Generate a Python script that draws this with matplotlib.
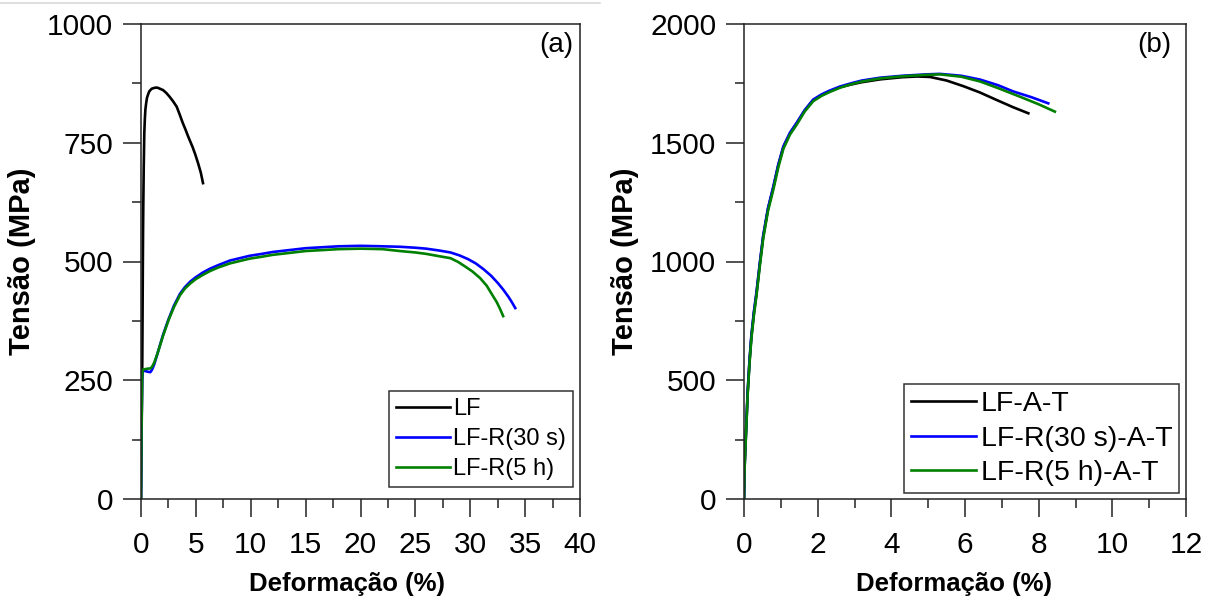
import matplotlib
matplotlib.use("Agg")
import matplotlib.pyplot as plt
from matplotlib.lines import Line2D
from matplotlib.ticker import MultipleLocator

plt.rcParams["font.family"] = ["Liberation Sans", "DejaVu Sans"]

# ---- (a) as-received / recrystallised samples ----
lf_strain = [0, 0.08, 0.12, 0.15, 0.17, 0.19, 0.21, 0.25, 0.30, 0.35, 0.40, 0.48,
             0.55, 0.65, 0.75, 0.9, 1.0, 1.15, 1.3, 1.5, 1.7, 2.0, 2.3, 2.6,
             2.9, 3.25, 3.5, 3.8, 4.05, 4.3, 4.5, 4.7, 4.95, 5.2, 5.45, 5.65]
lf_stress = [0, 200, 300, 420, 500, 570, 620, 700, 770, 800, 820, 835,
             845, 852, 858, 862, 864, 865, 866, 866, 864, 861, 855, 847,
             838, 826, 811, 792, 778, 763, 752, 741, 725, 707, 687, 665]

r30_strain = [0, 0.05, 0.10, 0.15, 0.3, 0.6, 0.85, 1.0, 1.2, 1.5, 2.0, 2.5,
              3.0, 3.55, 4.0, 4.5, 5.0, 5.65, 6.3, 7.0, 8.1, 9.0, 9.9, 11, 12,
              13.5, 15, 16.5, 18, 20, 22, 23.6, 25, 26, 27.2, 28.2, 29.0, 29.8,
              30.5, 31.2, 31.9, 32.5, 33.0, 33.5, 33.8, 34.1]
r30_stress = [0, 150, 250, 268, 270, 268, 267, 272, 283, 306, 345, 378,
              407, 432, 446, 458, 467, 477, 485, 492, 502, 507, 512, 516, 520,
              524, 528, 530, 532, 533, 532, 531, 529, 527, 523, 519, 513, 505,
              496, 484, 470, 455, 441, 425, 414, 402]

r5h_strain = [0, 0.05, 0.10, 0.15, 0.5, 0.85, 1.0, 1.2, 1.5, 2.0, 2.5, 3.0,
              3.55, 4.0, 4.5, 5.0, 5.65, 6.3, 7.0, 8.1, 9.0, 9.9, 11, 12,
              13.5, 15, 16.5, 18, 20, 22, 23.6, 25, 26, 27.2, 28.2, 28.9, 29.5,
              30.2, 30.9, 31.5, 32.0, 32.4, 32.7, 33.0]
r5h_stress = [0, 150, 255, 272, 274, 275, 278, 287, 306, 343, 376, 404,
              429, 443, 454, 463, 472, 480, 487, 496, 501, 506, 510, 514,
              518, 522, 524, 526, 527, 526, 522, 519, 516, 511, 507, 499, 490,
              479, 465, 449, 430, 415, 401, 385]

# ---- (b) after austenitising and tempering ----
lfat_strain = [0, 0.02, 0.05, 0.10, 0.15, 0.20, 0.27, 0.34, 0.43, 0.52, 0.65,
               0.80, 0.93, 1.07, 1.25, 1.43, 1.65, 1.88, 2.1, 2.3, 2.61, 2.9,
               3.2, 3.7, 4.3, 4.7, 5.05, 5.5, 5.96, 6.4, 6.86, 7.3, 7.72]
lfat_stress = [0, 150, 262, 450, 580, 683, 785, 867, 990, 1104, 1220,
               1315, 1405, 1483, 1540, 1582, 1636, 1680, 1700, 1715, 1734, 1745,
               1755, 1767, 1776, 1779, 1777, 1762, 1738, 1712, 1680, 1650, 1624]

r30at_strain = [0, 0.02, 0.05, 0.10, 0.15, 0.20, 0.27, 0.34, 0.43, 0.52, 0.65,
                0.80, 0.93, 1.07, 1.25, 1.43, 1.65, 1.88, 2.1, 2.3, 2.61, 2.9,
                3.2, 3.7, 4.3, 4.96, 5.32, 5.9, 6.41, 6.9, 7.31, 7.8, 8.26]
r30at_stress = [0, 155, 268, 455, 585, 688, 790, 872, 995, 1108, 1224,
                1318, 1408, 1485, 1543, 1584, 1638, 1682, 1703, 1718, 1737, 1750,
                1762, 1774, 1782, 1788, 1790, 1782, 1766, 1742, 1716, 1692, 1666]

r5hat_strain = [0, 0.02, 0.05, 0.10, 0.15, 0.20, 0.27, 0.34, 0.43, 0.52, 0.65,
                0.80, 0.93, 1.07, 1.25, 1.43, 1.65, 1.88, 2.1, 2.3, 2.61, 2.9,
                3.2, 3.7, 4.3, 4.96, 5.32, 5.9, 6.41, 6.9, 7.49, 8.0, 8.44]
r5hat_stress = [0, 145, 255, 440, 572, 675, 775, 858, 982, 1095, 1212,
                1305, 1396, 1475, 1535, 1576, 1632, 1675, 1697, 1712, 1732, 1746,
                1758, 1771, 1780, 1786, 1788, 1778, 1758, 1730, 1694, 1662, 1631]

labels_a = ["LF", "LF-R(30 s)", "LF-R(5 h)"]
labels_b = ["LF-A-T", "LF-R(30 s)-A-T", "LF-R(5 h)-A-T"]
colors = ["black", "#0000ff", "#008000"]

W, H = 1214, 605
fig = plt.figure(figsize=(W / 100, H / 100), dpi=100)

ax_a = fig.add_axes([141 / W, 1 - 499 / H, 439 / W, 475 / H])
ax_b = fig.add_axes([744 / W, 1 - 499 / H, 442 / W, 475 / H])

# thin rule along the top of the left half
fig.add_artist(Line2D([0, 600 / W], [1 - 2.5 / H, 1 - 2.5 / H],
                      transform=fig.transFigure, color="#d9d9d9", lw=1.2))

lw = 1.9
for x, y, lab, c in zip([lf_strain, r30_strain, r5h_strain],
                        [lf_stress, r30_stress, r5h_stress], labels_a, colors):
    ax_a.plot(x, y, color=c, lw=lw, label=lab, solid_joinstyle="round")
for x, y, lab, c in zip([lfat_strain, r30at_strain, r5hat_strain],
                        [lfat_stress, r30at_stress, r5hat_stress], labels_b, colors):
    ax_b.plot(x, y, color=c, lw=lw, label=lab, solid_joinstyle="round")

ax_a.set_xlim(0, 40)
ax_a.set_ylim(0, 1000)
ax_a.xaxis.set_major_locator(MultipleLocator(5))
ax_a.xaxis.set_minor_locator(MultipleLocator(2.5))
ax_a.yaxis.set_major_locator(MultipleLocator(250))
ax_a.yaxis.set_minor_locator(MultipleLocator(125))

ax_b.set_xlim(0, 12)
ax_b.set_ylim(0, 2000)
ax_b.xaxis.set_major_locator(MultipleLocator(2))
ax_b.xaxis.set_minor_locator(MultipleLocator(1))
ax_b.yaxis.set_major_locator(MultipleLocator(500))
ax_b.yaxis.set_minor_locator(MultipleLocator(250))

for ax, tag, tx in ((ax_a, "(a)", 0.985), (ax_b, "(b)", 0.968)):
    for s in ax.spines.values():
        s.set_linewidth(1.1)
        s.set_color("#222222")
    ax.tick_params(which="major", direction="out", length=13, width=1.1,
                   labelsize=21.5, pad=7, color="#222222")
    ax.tick_params(axis="x", which="major", pad=10)
    ax.tick_params(which="minor", direction="out", length=6.5, width=1.1,
                   color="#222222")
    ax.set_xlabel("Deformação (%)", fontsize=18.5, fontweight="bold")
    ax.set_ylabel("Tensão (MPa)", fontsize=21, fontweight="bold", labelpad=8)
    ax.text(tx, 0.956, tag, transform=ax.transAxes, ha="right", va="center",
            fontsize=20)

ax_a.xaxis.set_label_coords(0.47, -0.153)
ax_b.xaxis.set_label_coords(0.475, -0.153)

leg_a = ax_a.legend(loc="lower right", bbox_to_anchor=(0.985, 0.025), fontsize=17,
                    frameon=True, fancybox=False, edgecolor="#333333",
                    handlelength=2.3, handletextpad=0.15, labelspacing=0.33,
                    borderpad=0.3, borderaxespad=0.0)
leg_b = ax_b.legend(loc="lower right", bbox_to_anchor=(0.985, 0.012), fontsize=20.5,
                    frameon=True, fancybox=False, edgecolor="#333333",
                    handlelength=2.3, handletextpad=0.15, labelspacing=0.3,
                    borderpad=0.25, borderaxespad=0.0)
for leg in (leg_a, leg_b):
    leg.get_frame().set_linewidth(1.1)
    leg.get_frame().set_alpha(1)

fig.savefig("out.png", dpi=100)
